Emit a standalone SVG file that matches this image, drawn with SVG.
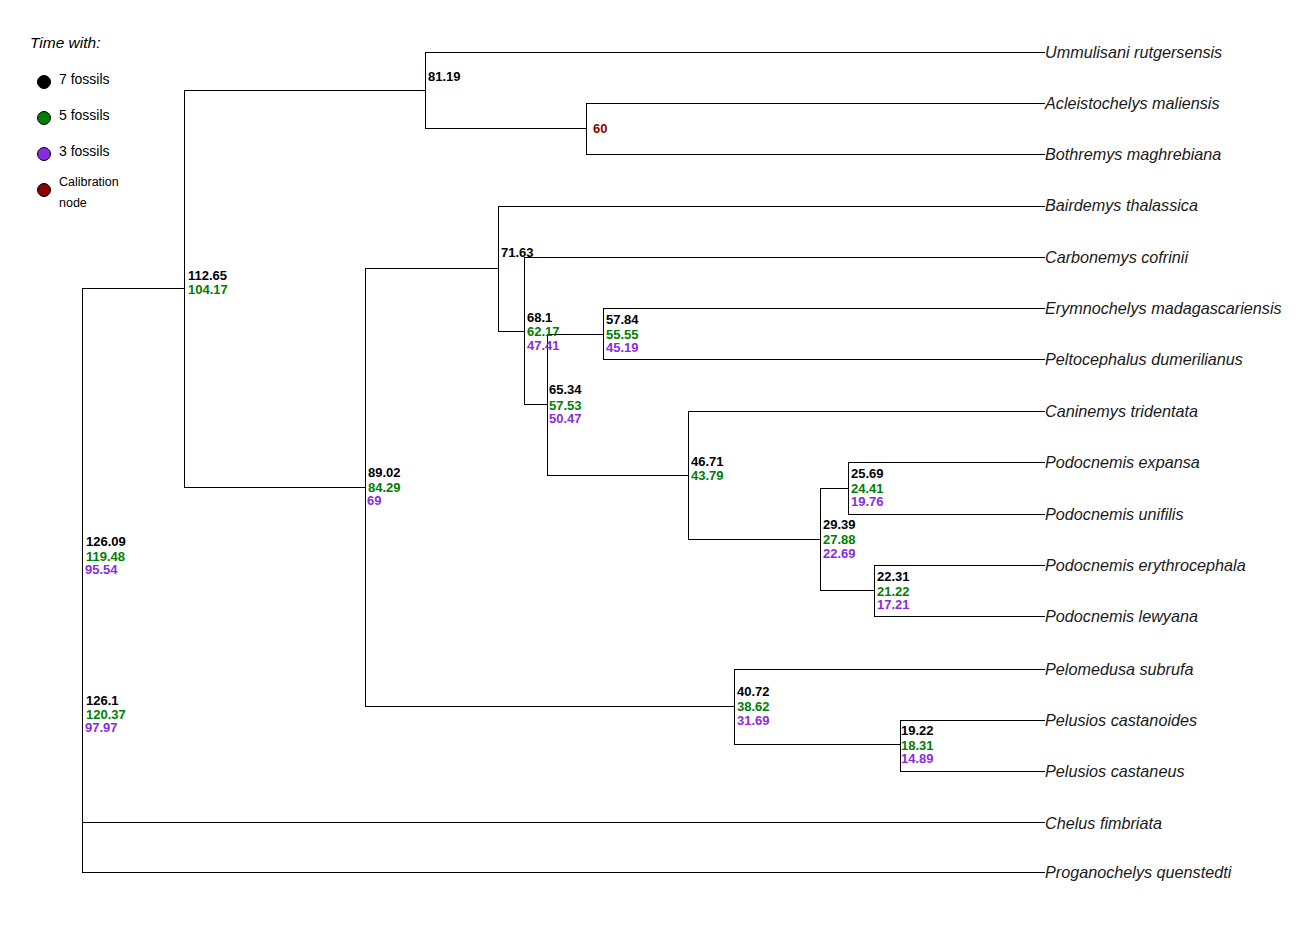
<svg xmlns="http://www.w3.org/2000/svg" width="1316" height="925" viewBox="0 0 1316 925">
<style>
.e{fill:none;stroke:#000;stroke-width:1;shape-rendering:crispEdges}
.tip{font-family:"Liberation Sans",Arial,sans-serif;font-style:italic;font-size:16.2px;fill:#1a1a1a}
.n{font-family:"Liberation Sans",Arial,sans-serif;font-weight:bold;font-size:13px}
.k{fill:#000}.g{fill:#008000}.p{fill:#8a2be2}.r{fill:#8b0000}
.lg{font-family:"Liberation Sans",Arial,sans-serif;font-size:14px;fill:#000}
.dot{stroke:#000;stroke-width:1}
</style>
<rect width="1316" height="925" fill="#fff"/>
<g id="legend">
<text x="30" y="48" class="lg" style="font-style:italic;font-size:15.5px">Time with:</text>
<circle cx="44" cy="82" r="6.5" class="dot" fill="#000"/>
<text x="59" y="84" class="lg">7 fossils</text>
<circle cx="44" cy="118" r="6.5" class="dot" fill="#008000"/>
<text x="59" y="120" class="lg">5 fossils</text>
<circle cx="44" cy="154" r="6.5" class="dot" fill="#8a2be2"/>
<text x="59" y="156" class="lg">3 fossils</text>
<circle cx="44" cy="190" r="6.5" class="dot" fill="#8b0000"/>
<text x="59" y="186" class="lg" style="font-size:12.5px">Calibration</text>
<text x="59" y="207" class="lg" style="font-size:12.5px">node</text>
</g>
<g id="connectors">
<path class="e" d="M82 288V872M82 288H184M82 822H1045M82 872H1045"/>
<path class="e" d="M184 90V487M184 90H425M184 487H365"/>
<path class="e" d="M425 52V128M425 52H1045M425 128H586"/>
<path class="e" d="M586 103V154M586 103H1045M586 154H1045"/>
<path class="e" d="M365 268V706M365 268H498M365 706H734"/>
<path class="e" d="M498 206V331M498 206H1045M498 331H524"/>
<path class="e" d="M524 257V404M524 257H1045M524 404H547"/>
<path class="e" d="M547 334V475M547 334H603M547 475H688"/>
<path class="e" d="M603 308V359M603 308H1045M603 359H1045"/>
<path class="e" d="M688 411V539M688 411H1045M688 539H820"/>
<path class="e" d="M820 488V590M820 488H848M820 590H874"/>
<path class="e" d="M848 462V514M848 462H1045M848 514H1045"/>
<path class="e" d="M874 565V616M874 565H1045M874 616H1045"/>
<path class="e" d="M734 669V744M734 669H1045M734 744H900"/>
<path class="e" d="M900 720V771M900 720H1045M900 771H1045"/>
</g>
<g id="tips">
<text class="tip" x="1045" y="58">Ummulisani rutgersensis</text>
<text class="tip" x="1045" y="109">Acleistochelys maliensis</text>
<text class="tip" x="1045" y="160">Bothremys maghrebiana</text>
<text class="tip" x="1045" y="211">Bairdemys thalassica</text>
<text class="tip" x="1045" y="263">Carbonemys cofrinii</text>
<text class="tip" x="1045" y="314">Erymnochelys madagascariensis</text>
<text class="tip" x="1045" y="365">Peltocephalus dumerilianus</text>
<text class="tip" x="1045" y="417">Caninemys tridentata</text>
<text class="tip" x="1045" y="468">Podocnemis expansa</text>
<text class="tip" x="1045" y="520">Podocnemis unifilis</text>
<text class="tip" x="1045" y="571">Podocnemis erythrocephala</text>
<text class="tip" x="1045" y="622">Podocnemis lewyana</text>
<text class="tip" x="1045" y="675">Pelomedusa subrufa</text>
<text class="tip" x="1045" y="726">Pelusios castanoides</text>
<text class="tip" x="1045" y="777">Pelusios castaneus</text>
<text class="tip" x="1045" y="829">Chelus fimbriata</text>
<text class="tip" x="1045" y="878">Proganochelys quenstedti</text>
</g>
<g id="node-root-a" class="n"><text x="86" y="545.5" class="k">126.09</text><text x="86" y="560.5" class="g">119.48</text><text x="85" y="574" class="p">95.54</text></g>
<g id="node-root-b" class="n"><text x="86" y="704.5" class="k">126.1</text><text x="86" y="719" class="g">120.37</text><text x="85" y="732" class="p">97.97</text></g>
<g id="node-112" class="n"><text x="188" y="280" class="k">112.65</text><text x="188" y="294" class="g">104.17</text></g>
<g id="node-81" class="n"><text x="428" y="80.5" class="k">81.19</text></g>
<g id="node-60" class="n"><text x="593" y="133" class="r">60</text></g>
<g id="node-89" class="n"><text x="368" y="477" class="k">89.02</text><text x="368" y="492" class="g">84.29</text><text x="367" y="505" class="p">69</text></g>
<g id="node-71" class="n"><text x="501" y="257" class="k">71.63</text></g>
<g id="node-68" class="n"><text x="527" y="322" class="k">68.1</text><text x="527" y="336" class="g">62.17</text><text x="527" y="349.5" class="p">47.41</text></g>
<g id="node-57" class="n"><text x="606" y="324" class="k">57.84</text><text x="606" y="339" class="g">55.55</text><text x="606" y="352" class="p">45.19</text></g>
<g id="node-65" class="n"><text x="549" y="394" class="k">65.34</text><text x="549" y="409.5" class="g">57.53</text><text x="549" y="423" class="p">50.47</text></g>
<g id="node-46" class="n"><text x="691" y="465.5" class="k">46.71</text><text x="691" y="480" class="g">43.79</text></g>
<g id="node-25" class="n"><text x="851" y="478" class="k">25.69</text><text x="851" y="493" class="g">24.41</text><text x="851" y="506" class="p">19.76</text></g>
<g id="node-29" class="n"><text x="823" y="529" class="k">29.39</text><text x="823" y="544" class="g">27.88</text><text x="823" y="558" class="p">22.69</text></g>
<g id="node-22" class="n"><text x="877" y="580.5" class="k">22.31</text><text x="877" y="596" class="g">21.22</text><text x="877" y="609" class="p">17.21</text></g>
<g id="node-40" class="n"><text x="737" y="696" class="k">40.72</text><text x="737" y="711" class="g">38.62</text><text x="737" y="724.5" class="p">31.69</text></g>
<g id="node-19" class="n"><text x="901" y="734.5" class="k">19.22</text><text x="901" y="749.5" class="g">18.31</text><text x="901" y="763" class="p">14.89</text></g>
</svg>
